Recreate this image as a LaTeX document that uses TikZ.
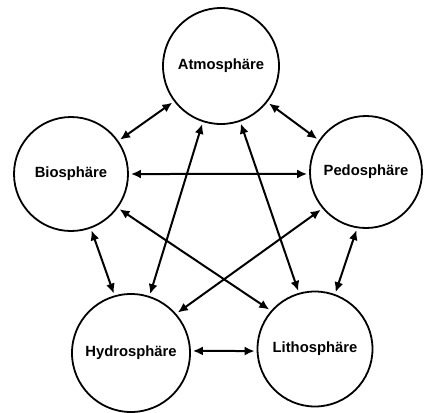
\documentclass[tikz,border=0pt]{standalone}
\usepackage{fontspec}
\setmainfont{Liberation Sans}
\usetikzlibrary{arrows.meta}
\tikzset{
  sphere/.style={circle, draw, line width=1.8pt, minimum size=#1, inner sep=0pt,
    font=\fontsize{14.8}{16}\selectfont\bfseries},
  arr/.style={line width=2pt, {Latex[length=10pt,width=9pt]}-{Latex[length=10pt,width=9pt]},
    shorten <=2pt, shorten >=2pt}
}
\begin{document}
\begin{tikzpicture}[x=1pt,y=-1pt]
\useasboundingbox (0,0) rectangle (424,413);
\node[sphere=116pt] (atm) at (221,66) {Atmosphäre};
\node[sphere=114pt] (bio) at (71,174) {Biosphäre};
\node[sphere=112pt] (ped) at (366,172) {Pedosphäre};
\node[sphere=118pt] (hyd) at (131,353) {Hydrosphäre};
\node[sphere=115pt] (lit) at (315,349) {Lithosphäre};
\draw[arr] (atm.217) -- (bio.35.5);
\draw[arr] (atm.322.5) -- (ped.146);
\draw[arr] (bio.0) -- (ped.182);
\draw[arr] (atm.252.7) -- (hyd.72.7);
\draw[arr] (atm.289) -- (lit.106.4);
\draw[arr] (bio.324) -- (lit.139.5);
\draw[arr] (ped.220) -- (hyd.41.4);
\draw[arr] (bio.290) -- (hyd.106.7);
\draw[arr] (ped.261.6) -- (lit.70);
\draw[arr] (hyd.2) -- (lit.182);
\end{tikzpicture}
\end{document}
